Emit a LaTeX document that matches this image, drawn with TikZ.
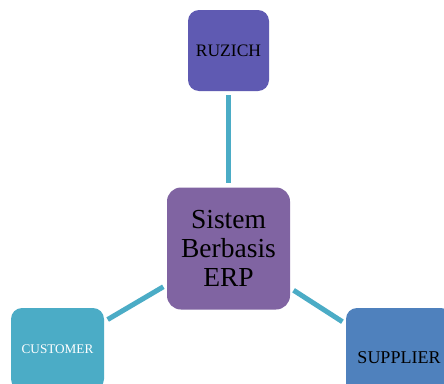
\documentclass[tikz,border=0pt]{standalone}
\usepackage{fontspec}
\setmainfont{Liberation Serif}
\definecolor{boxindigo}{HTML}{5F5AB2}
\definecolor{boxpurple}{HTML}{8064A2}
\definecolor{boxteal}{HTML}{4BACC6}
\definecolor{boxblue}{HTML}{4F81BD}
\definecolor{linkteal}{HTML}{4BACC6}
\begin{document}
\begin{tikzpicture}[x=1pt,y=-1pt,
  tile/.style={rectangle, rounded corners=11pt, inner sep=0pt, align=center},
  link/.style={draw=linkteal, line width=5pt, shorten <=4pt, shorten >=4pt}]
  \useasboundingbox (0,0) rectangle (444,383);
  \clip (0,0) rectangle (444,383);
  \fill[white] (0,0) rectangle (444,383);

  % central system block
  \node[tile, fill=boxpurple, rounded corners=14pt, minimum width=123pt, minimum height=122pt,
        font=\fontsize{27.5}{29}\selectfont] (erp) at (228.5,248.5) {Sistem\\Berbasis\\ERP};

  % partner blocks
  \node[tile, fill=boxindigo, minimum width=81pt, minimum height=81pt,
        font=\fontsize{17.5}{20}\selectfont] (ruzich) at (228.5,50.5) {RUZICH};
  \node[tile, fill=boxteal, minimum width=93pt, minimum height=82pt, text=white,
        font=\fontsize{13.2}{15}\selectfont] (customer) at (57.5,349) {CUSTOMER};
  \node[tile, fill=boxblue, minimum width=106pt, minimum height=100pt,
        font=\fontsize{18}{20}\selectfont] (supplier) at (399,358) {SUPPLIER};

  % connectors
  \draw[link] (ruzich) -- (erp);
  \draw[link] (customer) -- (erp);
  \draw[link] (erp) -- (supplier);
\end{tikzpicture}
\end{document}
